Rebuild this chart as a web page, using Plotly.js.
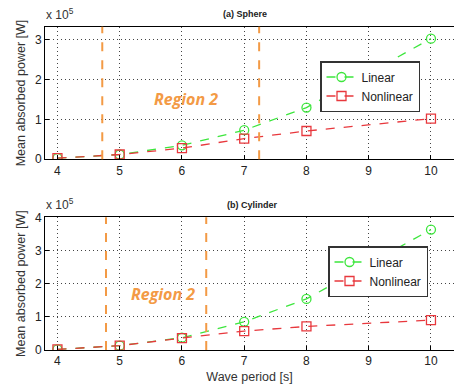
<!DOCTYPE html>
<html><head><meta charset="utf-8">
<script src="https://cdn.plot.ly/plotly-3.0.1.min.js"></script>
<style>html,body{margin:0;padding:0;background:#fff}</style>
</head><body><div id="chart" style="width:454px;height:387px"></div>
<script>
const periods = [4, 5, 6, 7, 8, 10];
const sphereLinear = [0.03, 0.12, 0.35, 0.73, 1.30, 3.03];
const sphereNonlinear = [0.03, 0.12, 0.28, 0.52, 0.71, 1.02];
const cylLinear = [0.02, 0.13, 0.37, 0.85, 1.54, 3.63];
const cylNonlinear = [0.02, 0.13, 0.36, 0.57, 0.71, 0.90];
const sphereRegion = [4.72, 7.24];
const cylRegion = [4.78, 6.39];
const xTicks = [4, 5, 6, 7, 8, 9, 10];

const green = '#3de63d', red = '#e8383d', orange = '#f39a45';
const font = 'Liberation Sans, Arial, sans-serif';
const L = 45, PW = 409;
function px(p) { return (p - L) / PW; }

function tr(y, name, color, sym, xa, ya, leg) {
  return {x: periods, y: y, name: name, type: 'scatter', mode: 'lines+markers',
    xaxis: xa, yaxis: ya, legend: leg,
    line: {color: color, dash: 'dash', width: 1.3},
    marker: {symbol: sym, size: 9, color: color, line: {width: 1.3, color: color}}};
}
const data = [
  tr(sphereLinear, 'Linear', green, 'circle-open', 'x', 'y', 'legend'),
  tr(sphereNonlinear, 'Nonlinear', red, 'square-open', 'x', 'y', 'legend'),
  tr(cylLinear, 'Linear', green, 'circle-open', 'x2', 'y2', 'legend2'),
  tr(cylNonlinear, 'Nonlinear', red, 'square-open', 'x2', 'y2', 'legend2')
];
const ax = {
  showline: true, mirror: true, linecolor: '#000', linewidth: 1,
  showgrid: true, gridcolor: '#444', griddash: '1px,3px', gridwidth: 1,
  ticks: 'inside', ticklen: 4, tickcolor: '#000', zeroline: false,
  tickfont: {size: 12, color: '#222', family: font}
};
function shapes(reg, xr, yr) {
  return reg.map(v => ({type: 'line', xref: xr, yref: yr + ' domain', x0: v, x1: v, y0: 0, y1: 1,
    line: {color: orange, width: 2, dash: 'dash'}}));
}
const legendBase = {bgcolor: '#fff', bordercolor: '#333', borderwidth: 1.5,
  font: {size: 12, family: font, color: '#222'}, xanchor: 'left', yanchor: 'top',
  tracegroupgap: 0, itemwidth: 30};
const ytitle = {text: 'Mean absorbed power [W]', font: {size: 12.5, family: font, color: '#333'}, standoff: 6};
const layout = {
  width: 454, height: 387, margin: {l: L, r: 0, t: 0, b: 0},
  paper_bgcolor: '#fff', plot_bgcolor: '#fff', showlegend: true,
  font: {family: font},
  xaxis: Object.assign({}, ax, {domain: [0, 1], range: [3.8, 10.37], tickvals: xTicks, anchor: 'y'}),
  yaxis: Object.assign({}, ax, {domain: [0.5884, 0.9310], range: [0, 3.33], tickvals: [0, 1, 2, 3], anchor: 'x',
    title: ytitle}),
  xaxis2: Object.assign({}, ax, {domain: [0, 1], range: [3.8, 10.37], tickvals: xTicks, anchor: 'y2',
    title: {text: 'Wave period [s]', font: {size: 12.5, family: font, color: '#333'}, standoff: 4}}),
  yaxis2: Object.assign({}, ax, {domain: [0.0956, 0.4385], range: [0, 4], tickvals: [0, 1, 2, 3, 4], anchor: 'x2',
    title: ytitle}),
  legend: Object.assign({}, legendBase, {x: px(320), y: 1 - 61/387}),
  legend2: Object.assign({}, legendBase, {x: px(328), y: 1 - 246/387}),
  shapes: shapes(sphereRegion, 'x', 'y').concat(shapes(cylRegion, 'x2', 'y2')),
  annotations: [
    {text: '<b>(a) Sphere</b>', xref: 'paper', yref: 'paper', x: px(245), y: 1 - 14/387, yanchor: 'middle', showarrow: false,
      font: {size: 9, color: '#222', family: font}},
    {text: '<b>(b) Cylinder</b>', xref: 'paper', yref: 'paper', x: px(252), y: 1 - 205/387, yanchor: 'middle', showarrow: false,
      font: {size: 9, color: '#222', family: font}},
    {text: 'x 10<sup>5</sup>', xref: 'paper', yref: 'paper', x: px(44), y: 1 - 24/387, xanchor: 'left', yanchor: 'bottom', showarrow: false,
      font: {size: 12, color: '#333', family: font}},
    {text: 'x 10<sup>5</sup>', xref: 'paper', yref: 'paper', x: px(44), y: 1 - 214/387, xanchor: 'left', yanchor: 'bottom', showarrow: false,
      font: {size: 12, color: '#333', family: font}},
    {text: '<b><i>Region 2</i></b>', xref: 'x', yref: 'y', x: 6.06, y: 1.51, showarrow: false,
      font: {size: 16, color: orange, family: 'Open Sans, sans-serif'}},
    {text: '<b><i>Region 2</i></b>', xref: 'x2', yref: 'y2', x: 5.69, y: 1.69, showarrow: false,
      font: {size: 16, color: orange, family: 'Open Sans, sans-serif'}}
  ]
};
Plotly.newPlot('chart', data, layout, {displayModeBar: false, staticPlot: true});
</script></body></html>
